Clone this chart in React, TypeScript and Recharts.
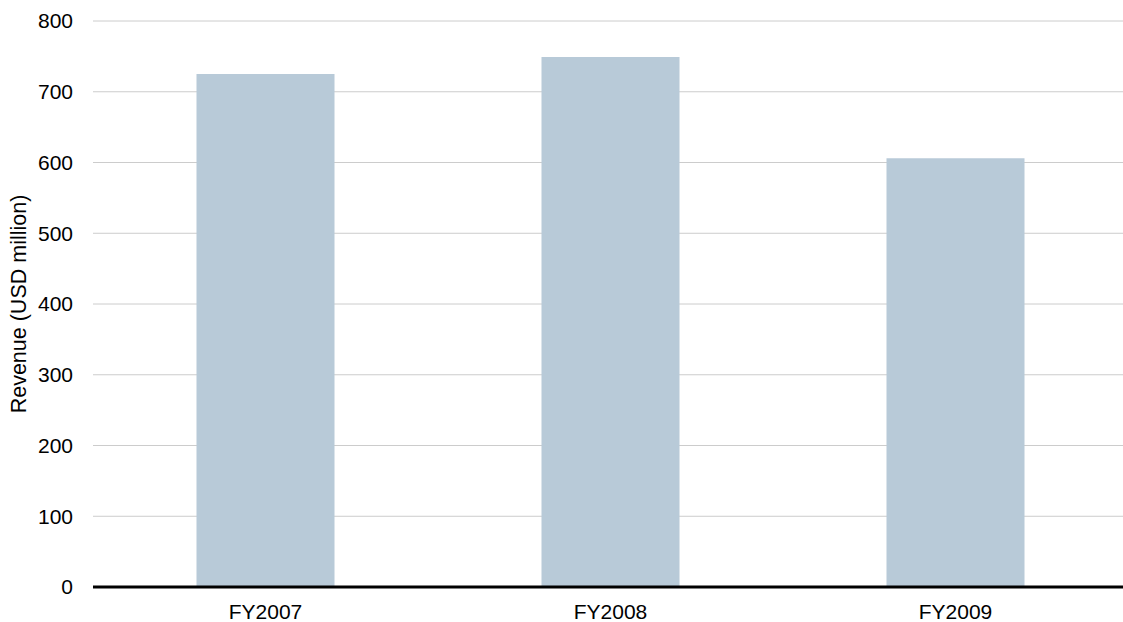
import React from "react";
import { BarChart, Bar, XAxis, YAxis, CartesianGrid } from "recharts";

// Fiscal years and revenue in USD million
const years = ["FY2007", "FY2008", "FY2009"];
const revenue = [725, 749, 606];
const yTicks = [0, 100, 200, 300, 400, 500, 600, 700, 800];

const data = years.map((year, i) => ({ year, revenue: revenue[i] }));

const font = "'Liberation Sans', Arial, sans-serif";

const App: React.FC = () => {
  return (
    <div
      style={{
        position: "absolute",
        left: 0,
        top: 0,
        width: 1123,
        height: 622,
        overflow: "hidden",
        background: "#fff",
      }}
    >
      <BarChart
        width={1128}
        height={622}
        data={data}
        margin={{ top: 21, right: 0, bottom: 0, left: 0 }}
        barCategoryGap="30%"
      >
        <CartesianGrid vertical={false} stroke="#cccccc" strokeWidth={1} />
        <XAxis
          dataKey="year"
          height={35}
          axisLine={{ stroke: "#000", strokeWidth: 3 }}
          tickLine={false}
          tickMargin={11}
          tick={{ fill: "#000", fontSize: 21, fontFamily: font }}
        />
        <YAxis
          width={93}
          domain={[0, 800]}
          ticks={yTicks}
          axisLine={false}
          tickLine={false}
          tickMargin={14}
          tick={{ fill: "#000", fontSize: 21, fontFamily: font }}
          label={{
            value: "Revenue (USD million)",
            angle: -90,
            position: "insideLeft",
            offset: 18,
            style: { textAnchor: "middle", fontSize: 21.5, fontFamily: font, fill: "#000" },
          }}
        />
        <Bar dataKey="revenue" fill="#b8cad8" isAnimationActive={false} />
      </BarChart>
    </div>
  );
};

export default App;
